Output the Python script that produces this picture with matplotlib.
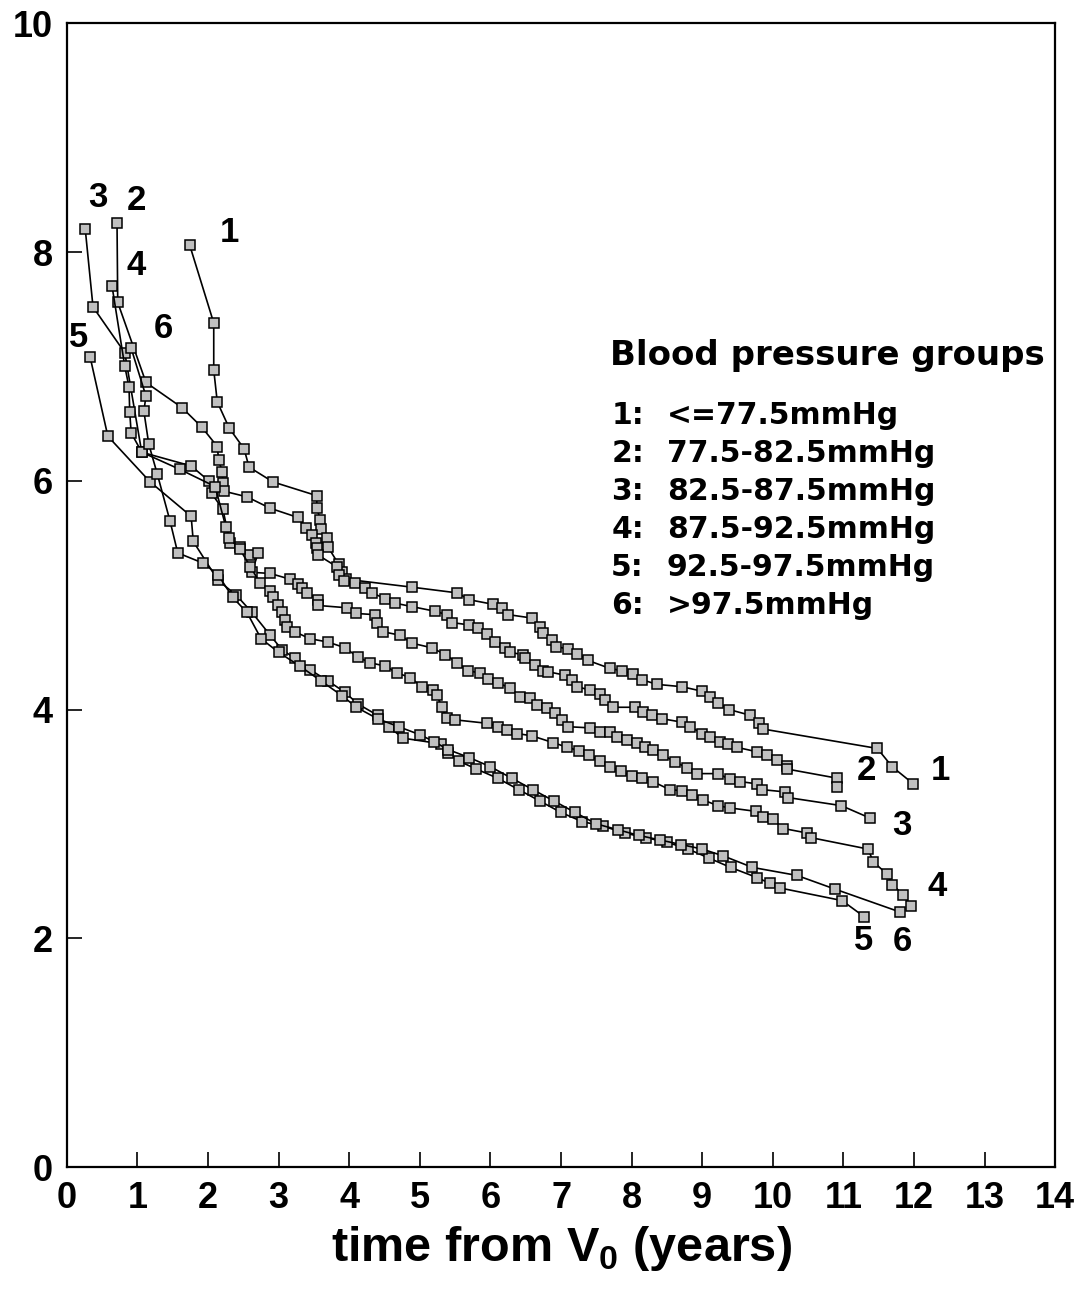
import numpy as np
import matplotlib.pyplot as plt

plt.rcParams['font.family'] = ['Liberation Sans', 'DejaVu Sans']
plt.rcParams['font.weight'] = 'bold'

#%% data: group curves (time in years, value)
t1 = [1.74, 2.08, 2.08, 2.13, 2.30, 2.51, 2.58, 2.92, 3.54, 3.54, 3.59, 3.60, 3.68, 3.70,
      3.85, 3.90, 3.95, 4.89, 5.53, 5.70, 6.04, 6.16, 6.25, 6.59, 6.70, 6.75, 6.87, 6.93,
      7.10, 7.23, 7.38, 7.69, 7.86, 8.02, 8.15, 8.36, 8.71, 9.00, 9.11, 9.22, 9.38, 9.68,
      9.81, 9.86, 11.48, 11.69, 11.99]
v1 = [8.06, 7.38, 6.97, 6.69, 6.46, 6.28, 6.12, 5.99, 5.87, 5.76, 5.66, 5.58, 5.50, 5.42,
      5.27, 5.20, 5.14, 5.07, 5.02, 4.96, 4.92, 4.89, 4.83, 4.80, 4.72, 4.67, 4.61, 4.55,
      4.53, 4.49, 4.43, 4.36, 4.34, 4.31, 4.26, 4.22, 4.20, 4.16, 4.11, 4.06, 4.00, 3.95,
      3.88, 3.83, 3.66, 3.50, 3.35]

t2 = [0.71, 0.72, 1.12, 1.63, 1.91, 2.13, 2.15, 2.20, 2.21, 2.22, 2.55, 2.88, 3.27, 3.39,
      3.47, 3.53, 3.54, 3.56, 3.82, 3.86, 3.93, 4.08, 4.22, 4.32, 4.51, 4.65, 4.89, 5.21,
      5.38, 5.46, 5.70, 5.82, 5.95, 6.06, 6.21, 6.28, 6.46, 6.49, 6.63, 6.75, 6.82, 7.06,
      7.16, 7.23, 7.41, 7.55, 7.62, 7.74, 8.05, 8.16, 8.29, 8.43, 8.71, 8.83, 9.00, 9.11,
      9.25, 9.37, 9.49, 9.78, 9.92, 10.06, 10.20, 10.20, 10.91, 10.91]
v2 = [8.25, 7.56, 6.86, 6.64, 6.47, 6.30, 6.18, 6.08, 5.98, 5.91, 5.86, 5.76, 5.68, 5.59,
      5.53, 5.46, 5.41, 5.35, 5.25, 5.18, 5.12, 5.11, 5.06, 5.02, 4.97, 4.93, 4.90, 4.86,
      4.83, 4.76, 4.74, 4.71, 4.66, 4.59, 4.54, 4.50, 4.48, 4.45, 4.39, 4.34, 4.33, 4.30,
      4.26, 4.20, 4.17, 4.14, 4.08, 4.02, 4.02, 3.98, 3.95, 3.92, 3.89, 3.85, 3.79, 3.76,
      3.72, 3.70, 3.67, 3.63, 3.60, 3.56, 3.51, 3.48, 3.40, 3.32]

t3 = [0.26, 0.37, 0.82, 1.06, 1.76, 2.01, 2.05, 2.21, 2.31, 2.45, 2.59, 2.71, 2.62, 2.88,
      3.16, 3.27, 3.33, 3.40, 3.56, 3.56, 3.97, 4.10, 4.36, 4.39, 4.48, 4.72, 4.89, 5.17,
      5.36, 5.53, 5.68, 5.85, 5.97, 6.11, 6.28, 6.42, 6.56, 6.66, 6.80, 6.92, 7.01, 7.10,
      7.41, 7.55, 7.69, 7.79, 7.94, 8.08, 8.19, 8.30, 8.45, 8.62, 8.79, 8.93, 9.22, 9.39,
      9.54, 9.78, 9.85, 10.17, 10.22, 10.97, 11.38]
v3 = [8.20, 7.52, 7.12, 6.25, 6.13, 6.00, 5.89, 5.75, 5.46, 5.42, 5.35, 5.37, 5.20, 5.19,
      5.14, 5.10, 5.06, 5.02, 4.96, 4.91, 4.89, 4.84, 4.83, 4.76, 4.68, 4.65, 4.58, 4.54,
      4.48, 4.41, 4.34, 4.32, 4.27, 4.23, 4.19, 4.11, 4.10, 4.04, 4.01, 3.97, 3.91, 3.85,
      3.84, 3.80, 3.80, 3.76, 3.73, 3.71, 3.67, 3.65, 3.60, 3.54, 3.49, 3.44, 3.44, 3.39,
      3.37, 3.35, 3.30, 3.28, 3.23, 3.16, 3.05]

t4 = [0.64, 0.82, 0.88, 0.89, 0.91, 1.06, 1.60, 2.10, 2.25, 2.30, 2.45, 2.60, 2.73, 2.88,
      2.92, 2.99, 3.05, 3.09, 3.12, 3.23, 3.44, 3.70, 3.94, 4.12, 4.29, 4.51, 4.68, 4.86,
      5.03, 5.19, 5.24, 5.31, 5.38, 5.50, 5.95, 6.11, 6.23, 6.38, 6.59, 6.89, 7.09, 7.25,
      7.40, 7.55, 7.70, 7.85, 8.00, 8.15, 8.30, 8.54, 8.71, 8.86, 9.01, 9.22, 9.39, 9.76,
      9.86, 10.00, 10.15, 10.49, 10.54, 11.35, 11.42, 11.62, 11.69, 11.85, 11.96]
v4 = [7.70, 7.00, 6.82, 6.60, 6.42, 6.25, 6.10, 5.95, 5.60, 5.50, 5.40, 5.25, 5.11, 5.04,
      4.98, 4.91, 4.85, 4.78, 4.72, 4.68, 4.62, 4.59, 4.54, 4.46, 4.41, 4.38, 4.32, 4.28,
      4.20, 4.17, 4.13, 4.02, 3.93, 3.91, 3.88, 3.85, 3.82, 3.79, 3.77, 3.71, 3.67, 3.64,
      3.60, 3.55, 3.50, 3.46, 3.42, 3.40, 3.37, 3.30, 3.29, 3.25, 3.21, 3.16, 3.14, 3.11,
      3.06, 3.04, 2.96, 2.92, 2.88, 2.78, 2.67, 2.56, 2.47, 2.38, 2.28]

t5 = [0.33, 0.58, 1.18, 1.76, 1.79, 2.14, 2.40, 2.62, 2.88, 3.05, 3.23, 3.44, 3.70,
      3.94, 4.12, 4.40, 4.56, 4.76, 5.30, 5.40, 5.55, 5.80, 6.10, 6.40, 6.70, 7.00, 7.30,
      7.60, 7.90, 8.20, 8.50, 8.80, 9.10, 9.40, 9.78, 9.96, 10.10, 10.98, 11.29]
v5 = [7.08, 6.39, 5.99, 5.69, 5.47, 5.13, 5.00, 4.85, 4.65, 4.52, 4.45, 4.35, 4.25,
      4.15, 4.05, 3.95, 3.85, 3.75, 3.70, 3.62, 3.55, 3.48, 3.40, 3.30, 3.20, 3.10, 3.02,
      2.98, 2.92, 2.88, 2.84, 2.78, 2.70, 2.62, 2.53, 2.48, 2.44, 2.33, 2.19]

t6 = [0.91, 1.12, 1.09, 1.16, 1.28, 1.46, 1.57, 1.93, 2.14, 2.35, 2.55, 2.75, 3.00, 3.30,
      3.60, 3.90, 4.10, 4.40, 4.70, 5.00, 5.20, 5.40, 5.70, 6.00, 6.30, 6.60, 6.90, 7.20,
      7.50, 7.80, 8.10, 8.40, 8.70, 9.00, 9.30, 9.71, 10.34, 10.88, 11.80]
v6 = [7.16, 6.74, 6.61, 6.32, 6.06, 5.65, 5.37, 5.28, 5.18, 4.98, 4.85, 4.62, 4.50, 4.38,
      4.25, 4.12, 4.02, 3.92, 3.85, 3.78, 3.72, 3.65, 3.58, 3.50, 3.40, 3.30, 3.20, 3.10,
      3.00, 2.95, 2.90, 2.86, 2.82, 2.78, 2.72, 2.62, 2.55, 2.43, 2.23]

# curve numbers and where they are written
group_ids = ['1', '2', '3', '4', '5', '6']
start_xy = [(2.30, 8.17), (0.99, 8.45), (0.44, 8.48), (0.98, 7.88), (0.16, 7.25), (1.36, 7.33)]
end_xy = [(12.37, 3.47), (11.32, 3.47), (11.83, 2.99), (12.33, 2.45), (11.29, 1.98), (11.83, 1.97)]

legend_title = 'Blood pressure groups'
legend_num = ['1:', '2:', '3:', '4:', '5:', '6:']
legend_rng = ['<=77.5mmHg', '77.5-82.5mmHg', '82.5-87.5mmHg',
              '87.5-92.5mmHg', '92.5-97.5mmHg', '>97.5mmHg']

#%% figure
fig = plt.figure(figsize=(10.79, 12.96), dpi=100)
ax = fig.add_axes([0.062, 0.0995, 0.916, 0.8825])

for t, v in [(t1, v1), (t2, v2), (t3, v3), (t4, v4), (t5, v5), (t6, v6)]:
    ax.plot(t, v, color='black', lw=1.2, marker='s', ms=6.5,
            mfc='#c0c0c0', mec='black', mew=1.1)

for gid, (xs, ys), (xe, ye) in zip(group_ids, start_xy, end_xy):
    ax.text(xs, ys, gid, fontsize=25, ha='center', va='center')
    ax.text(xe, ye, gid, fontsize=25, ha='center', va='center')

# group legend written inside the axes
ax.text(7.69, 7.10, legend_title, fontsize=24.5, ha='left', va='center',
        family='DejaVu Sans')
for i, (num, rng) in enumerate(zip(legend_num, legend_rng)):
    yy = 6.57 - i * 0.332
    ax.text(7.71, yy, num, fontsize=21.5, ha='left', va='center', family='DejaVu Sans')
    ax.text(8.50, yy, rng, fontsize=21.5, ha='left', va='center', family='DejaVu Sans')

ax.set_xlim(0, 14)
ax.set_ylim(0, 10)
ax.set_xticks(np.arange(0, 15, 1))
ax.set_yticks(np.arange(0, 11, 2))
ax.tick_params(direction='in', length=11, width=1.2, labelsize=26, pad=10)
for s in ax.spines.values():
    s.set_linewidth(1.6)

ax.set_xlabel(r'time from V$_{\mathregular{0}}$ (years)', fontsize=35,
              fontweight='bold', labelpad=6)

plt.savefig('out.png', dpi=100)
